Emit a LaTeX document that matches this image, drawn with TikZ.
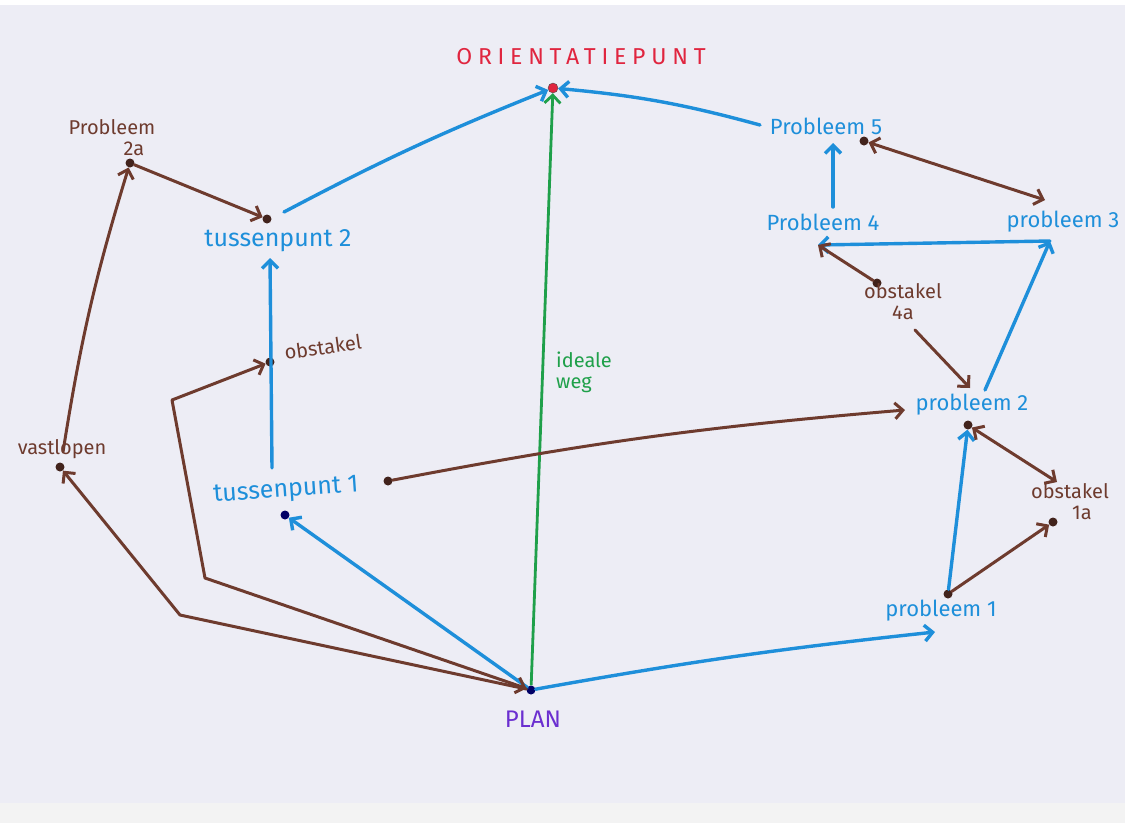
\documentclass[tikz,border=0pt]{standalone}
\usepackage{fontspec}
\setmainfont{Fira Sans}
\usetikzlibrary{arrows.meta,positioning}

\begin{document}
\begin{tikzpicture}[x=1pt,y=-1pt]
       \definecolor{paper}{HTML}{EDEDF5}
       \definecolor{strip}{HTML}{F3F3F3}
       \definecolor{markerblue}{HTML}{1E8FDA}
       \definecolor{markerbrown}{HTML}{6E3B2E}
       \definecolor{markergreen}{HTML}{1FA04A}
       \definecolor{markerred}{HTML}{E0253F}
       \definecolor{markerpurple}{HTML}{6B2FD0}
       \tikzstyle{word}      = [inner sep=1pt, font=\fontsize{22}{24}\selectfont, align=center]
       \tikzstyle{smallword} = [word, font=\fontsize{20}{21}\selectfont]
       \tikzstyle{dot}       = [circle, inner sep=0pt, minimum size=9pt, fill=markerbrown!60!black]
       \tikzstyle{barb}      = [-{Straight Barb[length=8pt,width=16pt]}]
       \tikzstyle{twobarb}   = [{Straight Barb[length=8pt,width=16pt]}-{Straight Barb[length=8pt,width=16pt]}]
       \tikzstyle{blueline}  = [markerblue, line width=3.4pt, line cap=round, line join=round]
       \tikzstyle{brownline} = [markerbrown, line width=3pt, line cap=round, line join=round]

       % paper
       \fill [paper] (0,0) rectangle (1125,823);
       \fill [white] (0,0) rectangle (1125,5);
       \fill [strip] (0,803) rectangle (1125,823);
       \useasboundingbox (0,0) rectangle (1125,823);

       % points
       \node [dot, fill=markerred, draw=black!70, minimum size=10pt] (orient) at (553,88) {};
       \node [dot, fill=blue!40!black] (plan) at (531,690) {};
       \node [dot] (p2a) at (130,163) {};
       \node [dot] (tp2) at (267,219) {};
       \node [dot] (obst) at (270,362) {};
       \node [dot] (vast) at (60,467) {};
       \node [dot, fill=blue!40!black] (tp1) at (285,515) {};
       \node [dot] (tp1out) at (388,481) {};
       \node [dot] (p1) at (948,594) {};
       \node [dot] (p2) at (968,425) {};
       \node [dot] (o1a) at (1053,522) {};
       \node [dot] (o4a) at (877,283) {};
       \node [dot] (p5pt) at (864,141) {};
       \coordinate (tp1top)  at (272,468);
       \coordinate (tp2bot)  at (270,258);
       \coordinate (tp2out)  at (284,212);
       \coordinate (p1in)    at (935,632);
       \coordinate (p2out)   at (985,390);
       \coordinate (p2top)   at (970,388);
       \coordinate (p2in)    at (905,410);
       \coordinate (p3pt)    at (1050,241);
       \coordinate (p3top)   at (1045,200);
       \coordinate (p4pt)    at (818,245);
       \coordinate (p4out)   at (833,207);
       \coordinate (p5in)    at (833,143);
       \coordinate (p5out)   at (760,125);
       \coordinate (o4aout)  at (915,330);
       \coordinate (o1atop)  at (1057,482);
       \coordinate (vasttop) at (63,452);

       % texts
       \node [word, text=markerred, font=\fontsize{23}{25}\selectfont\addfontfeatures{LetterSpace=25}] (orienttext) at (581,57) {ORIENTATIEPUNT};
       \node [word, text=markerpurple, font=\fontsize{24}{26}\selectfont] (plantext) at (533,719) {PLAN};
       \node [smallword, text=markerbrown] (p2atext) at (112,138) {Probleem\\\hspace*{2.2em}2a};
       \node [word, text=markerblue, font=\fontsize{25}{27}\selectfont] (tp2text) at (278,241) {tussenpunt 2};
       \node [smallword, text=markerbrown, rotate=8] (obsttext) at (323,347) {obstakel};
       \node [smallword, text=markerbrown] (vasttext) at (62,449) {vastlopen};
       \node [word, text=markerblue, font=\fontsize{25}{27}\selectfont, rotate=4] (tp1text) at (286,491) {tussenpunt 1};
       \node [smallword, text=markergreen, align=left] (idealtext) at (584,372) {ideale\\weg};
       \node [word, text=markerblue] (p5text) at (826,126) {Probleem 5};
       \node [word, text=markerblue] (p4text) at (823,222) {Probleem 4};
       \node [word, text=markerblue] (p3text) at (1063,222) {probleem 3};
       \node [smallword, text=markerbrown] (o4atext) at (903,302) {obstakel\\4a};
       \node [word, text=markerblue] (p2text) at (972,405) {probleem 2};
       \node [smallword, text=markerbrown] (o1atext) at (1070,502) {obstakel\\\hspace*{1.2em}1a};
       \node [word, text=markerblue] (p1text) at (941,611) {probleem 1};

       % connectors
       \draw [markergreen, line width=2.8pt, barb] (plan) -- (orient);
       \draw [blueline, barb] (plan) -- (tp1);
       \draw [blueline, barb] (tp1top) -- (tp2bot);
       \draw [blueline, barb] (tp2out) to [bend left=3] (orient);
       \draw [blueline, barb] (plan) to [bend left=2] (p1in);
       \draw [blueline, barb] (p1) -- (p2);
       \draw [blueline, barb] (p2out) -- (p3pt);
       \draw [blueline, barb] (p3pt) -- (p4pt);
       \draw [blueline, barb] (p4out) -- (p5in);
       \draw [blueline, barb] (p5out) to [bend right=5] (orient);
       \draw [brownline, barb] (p2a) -- (tp2);
       \draw [brownline, barb] (vasttop) to [bend left=4] (p2a);
       \draw [brownline, barb] (plan) -- (180,615) -- (vast);
       \draw [brownline, twobarb] (obst) -- (172,400) -- (205,578) -- (plan);
       \draw [brownline, barb] (tp1out) to [bend left=3] (p2in);
       \draw [brownline, barb] (p1) -- (o1a);
       \draw [brownline, twobarb] (p2) -- (o1atop);
       \draw [brownline, barb] (o4a) -- (p4pt);
       \draw [brownline, barb] (o4aout) -- (p2top);
       \draw [brownline, twobarb] (p5pt) -- (p3top);
\end{tikzpicture}
\end{document}
